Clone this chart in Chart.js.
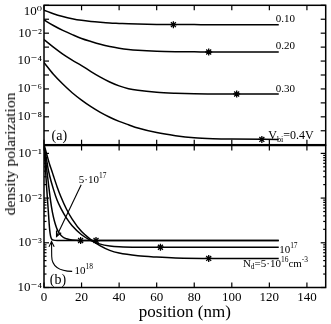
<!DOCTYPE html>
<html><head><meta charset="utf-8">
<script src="https://cdn.jsdelivr.net/npm/chart.js@4.4.1/dist/chart.umd.min.js"></script>
<style>
html,body{margin:0;padding:0;background:#fff;}
#wrap{position:relative;width:331px;height:324px;overflow:hidden;background:#fff;}
#cA{position:absolute;left:0;top:0;}
#cB{position:absolute;left:0;top:140px;}
#ytitle{position:absolute;left:10px;top:154px;transform:translate(-50%,-50%) rotate(-90deg);font:15.5px "Liberation Serif";white-space:nowrap;color:#000;}
</style></head><body>
<div id="wrap">
<canvas id="cA" width="331" height="150"></canvas>
<canvas id="cB" width="331" height="184"></canvas>
<div id="ytitle">density polarization</div>
</div>
<script>
// ---------- data (x in nm, y stored as log10 of density polarization) ----------
const xTickVals = [0, 20, 40, 60, 80, 100, 120, 140];

// panel (a): bias series
const posA   = [0, 5, 10, 15, 20, 25, 30, 35, 40, 45, 50, 60, 70, 80, 90, 100, 125];
const logV010 = [-0.35, -0.6, -0.8, -0.96, -1.08, -1.16, -1.22, -1.27, -1.3, -1.33, -1.35, -1.37, -1.38, -1.385, -1.39, -1.39, -1.39];
const logV020 = [-1.05, -1.45, -1.8, -2.1, -2.38, -2.6, -2.8, -2.96, -3.08, -3.17, -3.23, -3.3, -3.33, -3.34, -3.35, -3.35, -3.35];
const logV030 = [-2.46, -3.0, -3.5, -3.93, -4.32, -4.75, -5.15, -5.5, -5.78, -5.98, -6.1, -6.24, -6.31, -6.35, -6.36, -6.36, -6.36];
const logV040 = [-4.11, -4.95, -5.65, -6.27, -6.8, -7.27, -7.68, -8.03, -8.33, -8.57, -8.8, -9.13, -9.35, -9.5, -9.57, -9.6, -9.62];
const markAx  = [68.9, 87.7, 102.6, 116];
const markAy  = [-1.39, -3.35, -6.36, -9.62];

// panel (b): doping series
const pos18 = [0, 0.5, 1, 1.5, 2, 2.5, 3, 3.5, 4, 5, 7, 125];
const log18 = [-0.82, -1.15, -1.5, -1.82, -2.12, -2.42, -2.7, -2.85, -2.91, -2.94, -2.95, -2.95];
const pos5e17 = [0, 1, 2, 3, 4, 5, 6, 7, 8, 10, 12, 15, 20, 125];
const log5e17 = [-0.82, -1.2, -1.55, -1.9, -2.2, -2.42, -2.58, -2.7, -2.78, -2.87, -2.91, -2.94, -2.95, -2.95];
const pos17 = [0, 1, 2, 3, 5, 7, 9, 12, 15, 20, 25, 30, 35, 40, 50, 60, 125];
const log17 = [-0.85, -1.05, -1.3, -1.5, -1.8, -2.05, -2.23, -2.45, -2.62, -2.82, -2.95, -3.03, -3.07, -3.09, -3.1, -3.1, -3.1];
const pos5e16 = [0, 1, 2, 3, 4, 5, 7, 9, 12, 15, 20, 25, 30, 35, 40, 50, 60, 70, 90, 125];
const log5e16 = [-0.8, -0.95, -1.1, -1.25, -1.37, -1.5, -1.75, -1.97, -2.25, -2.47, -2.75, -2.93, -3.07, -3.17, -3.23, -3.29, -3.32, -3.34, -3.35, -3.35];
const markBx = [19.5, 27.7, 62, 87.7];
const markBy = [-2.95, -2.95, -3.1, -3.35];

// tick labels
const yDecadesA = [0, -1, -2, -3, -4, -5, -6, -7, -8, -9, -10];
const yLabelsA = {'0': '10\u2070', '-2': '10\u207B\u00B2', '-4': '10\u207B\u2074', '-6': '10\u207B\u2076', '-8': '10\u207B\u2078'};
const yDecadesB = [-1, -2, -3, -4];
const yLabelsB = {'-1': '10\u207B\u00B9', '-2': '10\u207B\u00B2', '-3': '10\u207B\u00B3', '-4': '10\u207B\u2074'};

// ---------- helpers ----------
const FONT = '"Liberation Serif", "DejaVu Serif", serif';
const pts = (xs, ls) => xs.map((x, i) => ({x: x, y: Math.pow(10, ls[i])}));

function richText(ctx, x, y, parts, size) {
  let cx = x;
  ctx.textBaseline = 'middle';
  ctx.textAlign = 'left';
  ctx.fillStyle = '#000';
  parts.forEach(p => {
    const s = p.s ? size * 0.68 : size;
    ctx.font = s + 'px ' + FONT;
    const dy = p.s === 'sup' ? -size * 0.36 : (p.s === 'sub' ? size * 0.3 : 0);
    ctx.fillText(p.t, cx, y + dy);
    cx += ctx.measureText(p.t).width;
  });
}

function line(ctx, x1, y1, x2, y2) { ctx.beginPath(); ctx.moveTo(x1, y1); ctx.lineTo(x2, y2); ctx.stroke(); }

function arrowHead(ctx, x, y, ang) {
  const L = 6, W = 0.45;
  ctx.beginPath();
  ctx.moveTo(x - L * Math.cos(ang - W), y - L * Math.sin(ang - W));
  ctx.lineTo(x, y);
  ctx.lineTo(x - L * Math.cos(ang + W), y - L * Math.sin(ang + W));
  ctx.stroke();
}

function framePlugin(minor, annots, arrows) {
  return {
    id: 'frame',
    afterDatasetsDraw(chart) {
      const ctx = chart.ctx, a = chart.chartArea, xs = chart.scales.x, ys = chart.scales.y;
      ctx.save();
      ctx.strokeStyle = '#000';
      ctx.lineWidth = 1.2;
      xTickVals.forEach(v => {
        const px = xs.getPixelForValue(v);
        line(ctx, px, a.top, px, a.top + 5);
        line(ctx, px, a.bottom, px, a.bottom - 5);
      });
      ys.ticks.forEach(t => {
        const py = ys.getPixelForValue(t.value);
        line(ctx, a.left, py, a.left + 5, py);
        line(ctx, a.right, py, a.right - 5, py);
      });
      if (minor) {
        for (let d = -5; d <= 0; d++) {
          for (let m = 2; m <= 9; m++) {
            const v = m * Math.pow(10, d);
            if (v <= ys.min || v >= ys.max) continue;
            const py = ys.getPixelForValue(v);
            line(ctx, a.left, py, a.left + 2.5, py);
            line(ctx, a.right, py, a.right - 2.5, py);
          }
        }
      }
      ctx.lineWidth = 1.5;
      ctx.strokeRect(a.left, a.top, a.right - a.left, a.bottom - a.top);
      ctx.lineWidth = 1.1;
      arrows.forEach(ar => {
        const p = ar.pts.map(q => [xs.getPixelForValue(q[0]), ys.getPixelForValue(Math.pow(10, q[1]))]);
        ctx.beginPath();
        ctx.moveTo(p[0][0], p[0][1]);
        if (p.length === 2) ctx.lineTo(p[1][0], p[1][1]);
        else { ctx.quadraticCurveTo(p[1][0], p[1][1], p[2][0], p[2][1]); ctx.lineTo(p[3][0], p[3][1]); }
        ctx.stroke();
        const e = p[p.length - 1], b = p[p.length - 2];
        arrowHead(ctx, e[0], e[1], Math.atan2(e[1] - b[1], e[0] - b[0]));
      });
      annots.forEach(an => {
        richText(ctx, xs.getPixelForValue(an.x), ys.getPixelForValue(Math.pow(10, an.ly)), an.parts, an.size || 11);
      });
      ctx.restore();
    }
  };
}

const lineDs = (data) => ({type: 'line', data: data, borderColor: '#000', borderWidth: 1.5, pointRadius: 0, fill: false, cubicInterpolationMode: 'monotone'});
const markDs = (data) => ({type: 'scatter', data: data, borderColor: '#000', backgroundColor: '#000', pointStyle: 'star', pointRadius: 3.5, borderWidth: 1.3, showLine: false});

const commonY = (min, max, decades, labels, width) => ({
  type: 'logarithmic', min: min, max: max,
  afterBuildTicks: s => { s.ticks = decades.map(d => ({value: Math.pow(10, d)})); },
  ticks: {
    autoSkip: false, padding: 2, color: '#000',
    font: {family: FONT, size: 13, lineHeight: 1},
    callback: (v) => {
      const e = String(Math.round(Math.log10(v)));
      const t = labels[e] || '';
      return (e === '0') ? ['', t] : t;
    }
  },
  grid: {display: false, drawTicks: false},
  border: {display: false},
  afterFit: s => { s.width = width; s.paddingTop = 0; s.paddingBottom = 0; }
});

Chart.defaults.animation = false;

// ---------- panel (a) ----------
new Chart(document.getElementById('cA'), {
  type: 'line',
  data: {
    datasets: [
      lineDs(pts(posA, logV010)), lineDs(pts(posA, logV020)),
      lineDs(pts(posA, logV030)), lineDs(pts(posA, logV040)),
      markDs(pts(markAx, markAy))
    ]
  },
  options: {
    responsive: false, devicePixelRatio: 1, animation: false,
    layout: {padding: {top: 3, right: 1, bottom: 4.5, left: 0}},
    plugins: {legend: {display: false}, tooltip: {enabled: false}},
    scales: {
      x: {type: 'linear', min: 0, max: 150, display: false,
          afterBuildTicks: s => { s.ticks = xTickVals.map(v => ({value: v})); }},
      y: commonY(1e-10, 1, yDecadesA, yLabelsA, 44)
    }
  },
  plugins: [framePlugin(false, [
    {x: 123.4, ly: -0.96, parts: [{t: '0.10'}]},
    {x: 123.4, ly: -2.94, parts: [{t: '0.20'}]},
    {x: 123.4, ly: -5.99, parts: [{t: '0.30'}]},
    {x: 119.4, ly: -9.39, parts: [{t: 'V'}, {t: 'bi', s: 'sub'}, {t: '=0.4V'}], size: 12},
    {x: 4.0, ly: -9.39, parts: [{t: '(a)'}], size: 14}
  ], [])]
});

// ---------- panel (b) ----------
new Chart(document.getElementById('cB'), {
  type: 'line',
  data: {
    datasets: [
      lineDs(pts(pos18, log18)), lineDs(pts(pos5e17, log5e17)),
      lineDs(pts(pos17, log17)), lineDs(pts(pos5e16, log5e16)),
      markDs(pts(markBx, markBy))
    ]
  },
  options: {
    responsive: false, devicePixelRatio: 1, animation: false,
    layout: {padding: {top: 5.5, right: 1, bottom: 0, left: 0}},
    plugins: {legend: {display: false}, tooltip: {enabled: false}},
    scales: {
      x: {type: 'linear', min: 0, max: 150,
          afterBuildTicks: s => { s.ticks = xTickVals.map(v => ({value: v})); },
          ticks: {autoSkip: false, maxRotation: 0, padding: 2, color: '#000', font: {family: FONT, size: 13}},
          grid: {display: false, drawTicks: false},
          border: {display: false},
          title: {display: true, text: 'position (nm)', color: '#000', font: {family: FONT, size: 17}, padding: {top: 0, bottom: 1}},
          afterFit: s => { s.height = 36.5; s.paddingLeft = 0; s.paddingRight = 0; }},
      y: commonY(1e-4, 0.15, yDecadesB, yLabelsB, 44)
    }
  },
  plugins: [framePlugin(true, [
    {x: 18.5, ly: -1.59, parts: [{t: '5\u00B710'}, {t: '17', s: 'sup'}]},
    {x: 16.3, ly: -3.64, parts: [{t: '10'}, {t: '18', s: 'sup'}]},
    {x: 125.2, ly: -3.16, parts: [{t: '10'}, {t: '17', s: 'sup'}]},
    {x: 105.9, ly: -3.47, parts: [{t: 'N'}, {t: 'd', s: 'sub'}, {t: '=5\u00B710'}, {t: '16', s: 'sup'}, {t: 'cm'}, {t: '-3', s: 'sup'}]},
    {x: 3.1, ly: -3.85, parts: [{t: '(b)'}], size: 14}
  ], [
    {pts: [[19.8, -1.70], [6.66, -2.86]]},
    {pts: [[15.0, -3.64], [4.2, -3.63], [4.1, -3.3], [4.0, -2.97]]}
  ])]
});
</script>
</body></html>
